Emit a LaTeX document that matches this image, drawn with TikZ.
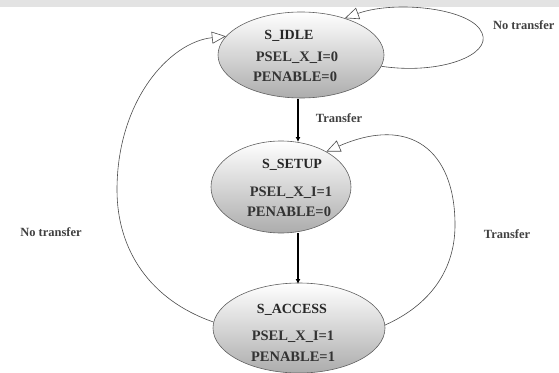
\documentclass[tikz,border=0pt]{standalone}
\usepackage{fontspec}
\setmainfont{Liberation Serif}
\usetikzlibrary{shapes.geometric,arrows.meta}
\tikzset{
  state/.style={ellipse, draw=gray!75!black, line width=0.6pt, top color=white, bottom color=gray!65, inner sep=0pt},
  title/.style={font=\fontsize{14}{16}\selectfont\bfseries, text=black!85},
  val/.style={font=\fontsize{14.5}{16}\selectfont\bfseries, text=black!80},
  lbl/.style={font=\fontsize{12.5}{14}\selectfont\bfseries, text=black!75},
  solidarr/.style={line width=1.1pt, -{Latex[length=5pt,width=5pt]}},
  looparr/.style={draw=gray!60!black, line width=0.6pt, -{Triangle[open,length=14pt,width=12pt,fill=white]}}
}
\begin{document}
\begin{tikzpicture}[x=1pt,y=-1pt]
\useasboundingbox (0,0) rectangle (559,372);
\fill[gray!22] (0,0) rectangle (559,7);
% states
\node[state, minimum width=166pt, minimum height=86pt] (idle) at (301,55) {};
\node[state, minimum width=140pt, minimum height=92pt] (setup) at (281,187) {};
\node[state, minimum width=172pt, minimum height=90pt] (access) at (299,328) {};
% texts
\node[title] (t1) at (289,36) {S\_IDLE};
\node[val] (t2) at (297,58) {PSEL\_X\_I=0};
\node[val] (t3) at (295,77) {PENABLE=0};
\node[title] (t4) at (292,165) {S\_SETUP};
\node[val] (t5) at (291,193) {PSEL\_X\_I=1};
\node[val] (t6) at (289,212) {PENABLE=0};
\node[title] (t7) at (292,310) {S\_ACCESS};
\node[val] (t8) at (293,337) {PSEL\_X\_I=1};
\node[val] (t9) at (293,357) {PENABLE=1};
% labels
\node[lbl] (l1) at (339,118) {Transfer};
\node[lbl, anchor=east] (l2) at (558,25) {No transfer};
\node[lbl] (l3) at (51,232) {No transfer};
\node[lbl] (l4) at (507,234) {Transfer};
% straight arrows
\coordinate (a1) at (298,99);
\coordinate (b1) at (298,142);
\coordinate (a2) at (298,233);
\coordinate (b2) at (298,284);
\draw[solidarr] (a1) -- (b1);
\draw[solidarr] (a2) -- (b2);
% loops
\draw[looparr] (idle.-8) .. controls (440,75) and (492,55) .. (482,33) .. controls (472,8) and (395,0) .. (idle.40);
\draw[looparr] (access.176) .. controls (150,300) and (117,250) .. (117,190) .. controls (117,100) and (170,42) .. (idle.166);
\draw[looparr] (access.2) .. controls (430,305) and (455,270) .. (455,225) .. controls (455,150) and (410,115) .. (setup.38);
\end{tikzpicture}
\end{document}
